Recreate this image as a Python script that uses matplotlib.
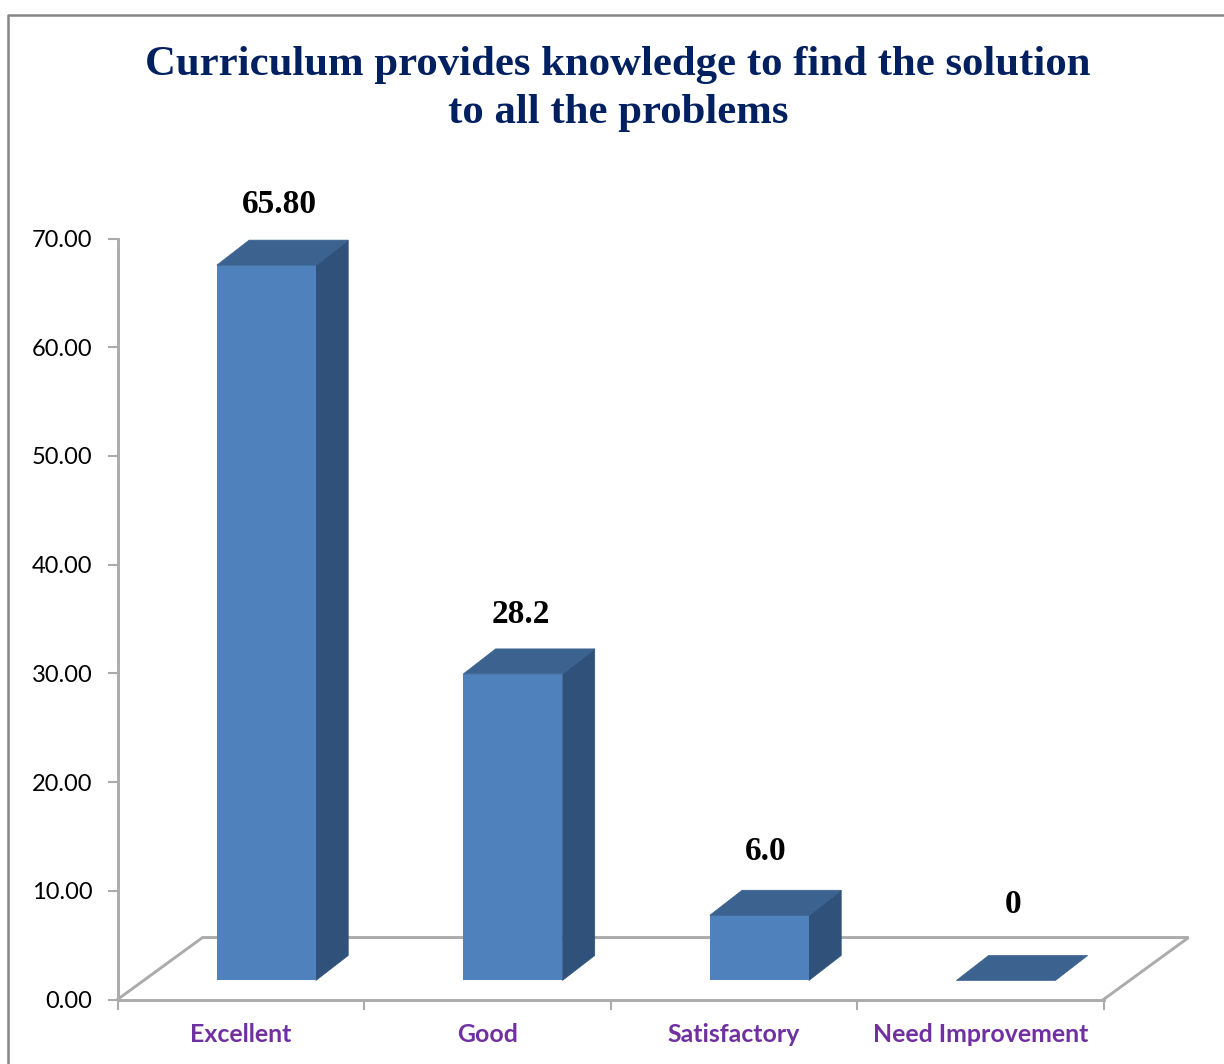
import matplotlib
matplotlib.use('Agg')
import matplotlib.pyplot as plt
from matplotlib.lines import Line2D
from matplotlib.patches import Polygon

categories = ['Excellent', 'Good', 'Satisfactory', 'Need Improvement']
values = [65.80, 28.2, 6.0, 0]
value_labels = ['65.80', '28.2', '6.0', '0']
yticks = [0, 10, 20, 30, 40, 50, 60, 70]

W, H = 1224, 1064
FRONT = '#4F81BD'
TOP = '#3C6290'
SIDE = '#30527A'
GRID = '#ABABAB'

# 3d look, all in data units (x = category, y = value)
bar_off = 0.104
bar_w = 0.402
lift = 1.75
dx = 0.131
dy = 2.3
floor_dx = 0.345
floor_dy = 5.7

fig = plt.figure(figsize=(W / 100, H / 100), dpi=100)
ax = fig.add_axes([117.5 / W, 1 - 999.5 / H, (1103.5 - 117.5) / W, (999.5 - 238.5) / H])
ax.set_xlim(0, 4)
ax.set_ylim(0, 70)

# chart frame
fig.add_artist(Line2D([8 / W, 8 / W, 1], [0, 1 - 15 / H, 1 - 15 / H], color='#868686', lw=1.8))

for s in ['top', 'right']:
    ax.spines[s].set_visible(False)
for s in ['left', 'bottom']:
    ax.spines[s].set_color(GRID)
    ax.spines[s].set_linewidth(2.1)

# floor
ax.plot([0, floor_dx, 4 + floor_dx, 4], [0, floor_dy, floor_dy, 0], color=GRID, lw=2.1,
        clip_on=False, zorder=1, solid_joinstyle='miter')

# label nudges in points, the labels were hand placed in the original
label_dx = [9.5, 6, 4.2, 5.3]
label_dy = [43.5, 43, 45.6, 55]

for i, v in enumerate(values):
    x0 = i + 0.5 - bar_w / 2 + bar_off
    x1 = x0 + bar_w
    y0 = lift
    y1 = lift + v
    side = [(x1, y0), (x1 + dx, y0 + dy), (x1 + dx, y1 + dy), (x1, y1)]
    top = [(x0, y1), (x0 + dx, y1 + dy), (x1 + dx, y1 + dy), (x1, y1)]
    if v > 0:
        ax.add_patch(Polygon(side, closed=True, fc=SIDE, ec=SIDE, lw=0.5, clip_on=False, zorder=3))
        ax.bar(x0, v, width=bar_w, bottom=y0, align='edge', color=FRONT, zorder=3, clip_on=False)
    ax.add_patch(Polygon(top, closed=True, fc=TOP, ec=TOP, lw=0.5, clip_on=False, zorder=3))
    ax.annotate(value_labels[i], (x0 + bar_w / 2, y1), xytext=(label_dx[i], label_dy[i]), textcoords='offset points',
                ha='center', va='center', family='Liberation Serif', fontweight='bold',
                fontsize=24, color='black', zorder=5, annotation_clip=False)

ax.set_yticks(yticks)
ax.set_yticklabels(['%.2f' % t for t in yticks], family='Lato', fontsize=17, color='black')
ax.set_xticks([0, 1, 2, 3, 4])
ax.set_xticklabels([])
ax.tick_params(axis='both', color=GRID, width=1.5, length=7, direction='out')
ax.tick_params(axis='y', pad=11)

for i, c in enumerate(categories):
    ax.annotate(c, (i + 0.5, 0), xytext=(0, -25), textcoords='offset points', ha='center', va='center',
                family='Lato', fontweight='bold', fontsize=17.9, color='#7030A0', annotation_clip=False)

fig.text(618 / W, 1 - 89 / H, 'Curriculum provides knowledge to find the solution\nto all the problems',
         ha='center', va='center', family='Liberation Serif', fontweight='bold', fontsize=30.8,
         color='#002060', linespacing=1.35)

fig.savefig('out.png', dpi=100, facecolor='white')
